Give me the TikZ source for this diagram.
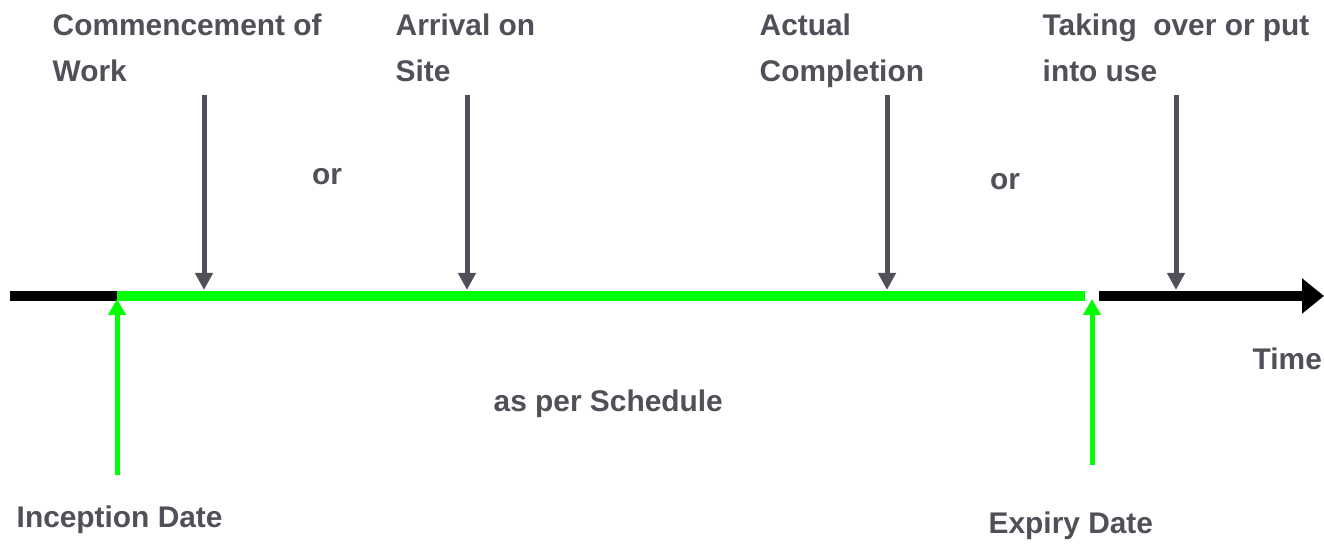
\documentclass[tikz,border=0pt]{standalone}
\usepackage{fontspec}
\setmainfont{Liberation Sans}
\usepackage{tikz}
\usetikzlibrary{arrows.meta}
\usepackage{xcolor}
\definecolor{txtgray}{RGB}{80,80,88}
\definecolor{lgreen}{RGB}{0,255,0}

\begin{document}
\begin{tikzpicture}[
    lbl/.style={font=\fontsize{8.5}{13.1}\selectfont\bfseries, text=txtgray, inner sep=0pt, align=left, anchor=base west},
    downarrow/.style={-{Triangle[length=0.17cm,width=0.17cm]}, draw=txtgray, line width=0.05cm},
    uparrow/.style={-{Triangle[length=0.16cm,width=0.17cm]}, draw=lgreen, line width=0.05cm},
    timeline/.style={line width=0.1cm}
]
\useasboundingbox (0,0) rectangle (13.24,5.44);

% ========== TIME AXIS ==========
\coordinate (start) at (0.10,2.48);
\coordinate (inception) at (1.17,2.48);
\coordinate (expiry) at (10.85,2.48);
\coordinate (resume) at (10.99,2.48);
\coordinate (end) at (13.24,2.48);

\draw[timeline, black] (start) -- (inception);
\draw[timeline, lgreen] (inception) -- (expiry);
\draw[timeline, black, -{Triangle[length=0.22cm,width=0.34cm]}] (resume) -- (end);

\node[lbl] (time) at (12.52,1.74) {Time};

% ========== EVENTS (TOP) ==========
% base anchor sits on the last line
\node[lbl] (work) at (0.52,4.62) {Commencement of\\Work};
\node[lbl] (arrival) at (3.95,4.62) {Arrival on\\Site};
\node[lbl] (completion) at (7.59,4.62) {Actual\\Completion};
\node[lbl] (takeover) at (10.42,4.62) {Taking~ over or put\\into use};

\node[lbl, anchor=base] (or1) at (3.27,3.59) {or};
\node[lbl, anchor=base] (or2) at (10.05,3.54) {or};

% arrows down onto the axis
\coordinate (work top) at (2.04,4.49);
\coordinate (work hit) at (2.04,2.54);
\coordinate (arrival top) at (4.67,4.49);
\coordinate (arrival hit) at (4.67,2.54);
\coordinate (completion top) at (8.87,4.49);
\coordinate (completion hit) at (8.87,2.54);
\coordinate (takeover top) at (11.76,4.49);
\coordinate (takeover hit) at (11.76,2.54);

\draw[downarrow] (work top) -- (work hit);
\draw[downarrow] (arrival top) -- (arrival hit);
\draw[downarrow] (completion top) -- (completion hit);
\draw[downarrow] (takeover top) -- (takeover hit);

% ========== PERIOD (BOTTOM) ==========
\coordinate (inception foot) at (1.17,0.69);
\coordinate (inception hit) at (1.17,2.45);
\coordinate (expiry foot) at (10.92,0.79);
\coordinate (expiry hit) at (10.92,2.45);

\draw[uparrow] (inception foot) -- (inception hit);
\draw[uparrow] (expiry foot) -- (expiry hit);

\node[lbl] (schedule) at (4.93,1.32) {as per Schedule};
\node[lbl] (inceptionlbl) at (0.16,0.16) {Inception Date};
\node[lbl] (expirylbl) at (9.88,0.10) {Expiry Date};

\end{tikzpicture}
\end{document}
